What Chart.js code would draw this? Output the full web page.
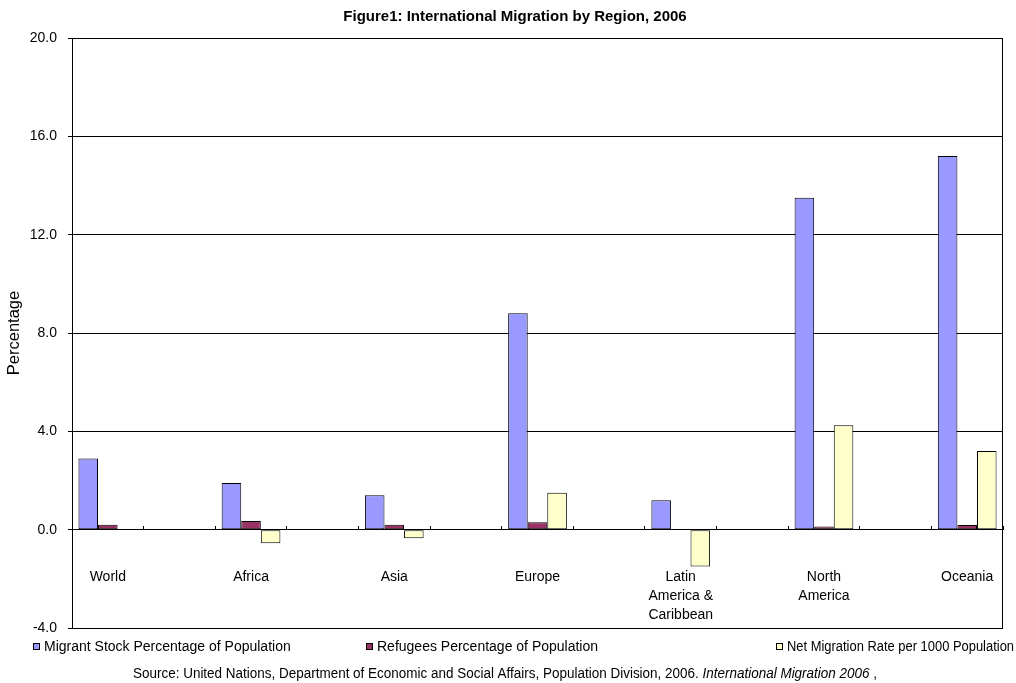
<!DOCTYPE html>
<html><head><meta charset="utf-8">
<script src="https://cdn.jsdelivr.net/npm/chart.js@4/dist/chart.umd.min.js"></script>
<style>html,body{margin:0;padding:0;background:#fff;} #wrap{width:1016px;height:683px;position:relative;}</style>
</head><body><div id="wrap"><canvas id="c" width="1016" height="683"></canvas></div>
<script>
// ---- data ----
const regions = [['World'], ['Africa'], ['Asia'], ['Europe'], ['Latin', 'America &', 'Caribbean'], ['North', 'America'], ['Oceania']];
const migrantStock = [2.9, 1.9, 1.4, 8.8, 1.2, 13.5, 15.2];
const refugees = [0.2, 0.35, 0.2, 0.3, null, 0.13, 0.19];
const netMigration = [0, -0.55, -0.35, 1.5, -1.5, 4.25, 3.2];
const seriesNames = ['Migrant Stock Percentage of Population', 'Refugees Percentage of Population', 'Net Migration Rate per 1000 Population'];
const seriesColors = ['#9999FF', '#993366', '#FFFFCC'];
const yTickValues = [-4, 0, 4, 8, 12, 16, 20];
const chartTitle = 'Figure1: International Migration by Region, 2006';
const yTitle = 'Percentage';
const sourcePlain = 'Source: United Nations, Department of Economic and Social Affairs, Population Division, 2006. ';
const sourceItalic = 'International Migration 2006';
const sourceTail = ' ,';

// Excel layout: empty category between regions
function spread(arr, filler) {
  const out = [];
  arr.forEach((v, i) => { out.push(v); if (i < arr.length - 1) out.push(filler); });
  return out;
}
const labels = spread(regions, '');
const seriesData = [migrantStock, refugees, netMigration].map(a => spread(a, null));

const FONT = "'Liberation Sans', Arial, sans-serif";

const decor = {
  id: 'decor',
  afterDraw(chart) {
    const ctx = chart.ctx;
    const a = chart.chartArea;
    ctx.save();
    // plot border
    ctx.strokeStyle = '#000';
    ctx.lineWidth = 1;
    ctx.strokeRect(Math.round(a.left) + 0.5, Math.round(a.top) + 0.5, Math.round(a.right - a.left) - 1, Math.round(a.bottom - a.top));
    // title
    ctx.fillStyle = '#000';
    ctx.font = 'bold 15px ' + FONT;
    ctx.textAlign = 'center';
    ctx.textBaseline = 'middle';
    ctx.fillText(chartTitle, 515, 17);
    // legend
    const lx = [33, 366, 776];
    const lw = [253, 222, 227];
    ctx.font = '14px ' + FONT;
    ctx.textAlign = 'left';
    chart.data.datasets.forEach((ds, i) => {
      ctx.fillStyle = ds.backgroundColor;
      ctx.fillRect(lx[i], 643, 7, 7);
      ctx.strokeStyle = '#000';
      ctx.strokeRect(lx[i] + 0.5, 643.5, 6, 6);
      ctx.fillStyle = '#000';
      ctx.fillText(ds.label, lx[i] + 11, 647, lw[i]);
    });
    // source (horizontally condensed to match)
    const y = 674;
    ctx.font = '14px ' + FONT;
    const w1 = ctx.measureText(sourcePlain).width;
    const w3 = ctx.measureText(sourceTail).width;
    ctx.font = 'italic 14px ' + FONT;
    const w2 = ctx.measureText(sourceItalic).width;
    const k = 744 / (w1 + w2 + w3);
    ctx.translate(133, 0);
    ctx.scale(k, 1);
    ctx.font = '14px ' + FONT;
    ctx.fillText(sourcePlain, 0, y);
    ctx.font = 'italic 14px ' + FONT;
    ctx.fillText(sourceItalic, w1, y);
    ctx.font = '14px ' + FONT;
    ctx.fillText(sourceTail, w1 + w2, y);
    ctx.restore();
  }
};

new Chart(document.getElementById('c'), {
  type: 'bar',
  data: {
    labels: labels,
    datasets: seriesData.map((d, i) => ({
      label: seriesNames[i],
      data: d,
      backgroundColor: seriesColors[i],
      borderColor: '#000',
      borderWidth: 1,
      borderSkipped: false,
      barPercentage: 1,
      categoryPercentage: 0.82
    }))
  },
  options: {
    responsive: false,
    animation: false,
    layout: { padding: { left: 0, right: 13, top: 38, bottom: 55 } },
    plugins: { legend: { display: false }, title: { display: false }, tooltip: { enabled: false } },
    scales: {
      x: {
        type: 'category',
        position: { y: 0 },
        offset: true,
        afterFit: s => { s.paddingLeft = 0; s.paddingRight = 0; },
        grid: { display: true, drawOnChartArea: false, offset: true, tickLength: -4, color: '#000', tickColor: '#000', lineWidth: 1 },
        border: { display: true, color: '#000', width: 1 },
        ticks: { autoSkip: false, maxRotation: 0, minRotation: 0, padding: 42, color: '#000', font: { family: FONT, size: 14, lineHeight: 1.36 } }
      },
      y: {
        min: -4, max: 20,
        afterBuildTicks: s => { s.ticks = yTickValues.map(v => ({ value: v })); },
        afterFit: s => { s.width = 72; },
        grid: { color: '#000', tickColor: '#000', tickLength: 4, lineWidth: 1 },
        border: { display: true, color: '#000', width: 1 },
        ticks: { padding: 11, color: '#000', font: { family: FONT, size: 14 }, callback: v => Number(v).toFixed(1) },
        title: { display: true, text: yTitle, color: '#000', font: { family: FONT, size: 16.5 }, padding: { top: 5, bottom: 0 } }
      }
    }
  },
  plugins: [decor]
});
</script>
</body></html>
